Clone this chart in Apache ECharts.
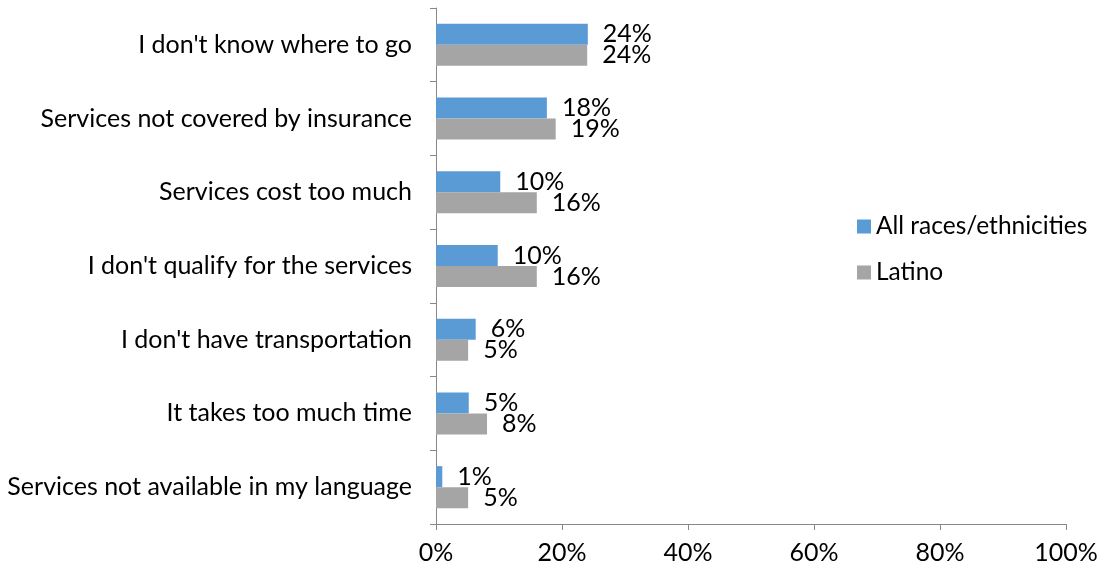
<!DOCTYPE html>
<html><head><meta charset="utf-8">
<script src="https://cdn.jsdelivr.net/npm/echarts@6/dist/echarts.min.js"></script>
<style>html,body{margin:0;padding:0;background:#fff}#c{width:1108px;height:573px}</style>
</head><body><div id="c"></div>
<script>
const categories = [
  "I don't know where to go",
  "Services not covered by insurance",
  "Services cost too much",
  "I don't qualify for the services",
  "I don't have transportation",
  "It takes too much time",
  "Services not available in my language"
];
const allRaces = [24.1, 17.6, 10.2, 9.8, 6.3, 5.2, 1.0];
const latino = [24.0, 19.0, 16.0, 16.0, 5.1, 8.1, 5.1];
const xTicks = [0, 20, 40, 60, 80, 100];
const seriesNames = ["All races/ethnicities", "Latino"];

const FONT = 'Lato';
const FS = 25;
const chart = echarts.init(document.getElementById('c'), null, {renderer: 'canvas'});
const lbl = {
  show: true, position: 'right', distance: 15,
  formatter: p => Math.round(p.value) + '%',
  fontFamily: FONT, fontSize: FS, color: '#000'
};
chart.setOption({
  animation: false,
  textStyle: {fontFamily: FONT},
  grid: {left: 436, right: 42, top: 8, bottom: 49, containLabel: false},
  legend: {
    orient: 'vertical', left: 852, top: 209, itemGap: 21,
    itemWidth: 14, itemHeight: 14, icon: 'rect',
    textStyle: {fontFamily: FONT, fontSize: 24.5, color: '#000'},
    data: seriesNames
  },
  xAxis: {
    type: 'value', min: xTicks[0], max: xTicks[xTicks.length - 1], interval: 20,
    splitLine: {show: false},
    axisLine: {show: true, lineStyle: {color: '#888', width: 1}},
    axisTick: {show: true, length: 6, lineStyle: {color: '#888'}},
    axisLabel: {formatter: v => v + '%', fontFamily: FONT, fontSize: FS, color: '#000', margin: 16}
  },
  yAxis: {
    type: 'category', data: categories, inverse: true,
    axisLine: {show: true, lineStyle: {color: '#888', width: 1}},
    axisTick: {show: true, length: 6, lineStyle: {color: '#888'}},
    axisLabel: {fontFamily: FONT, fontSize: FS, color: '#000', margin: 24}
  },
  series: [
    {name: seriesNames[0], type: 'bar', data: allRaces, barGap: '0%', barCategoryGap: '43%',
     itemStyle: {color: '#5B9BD5'}, label: lbl},
    {name: seriesNames[1], type: 'bar', data: latino, barGap: '0%', barCategoryGap: '43%',
     itemStyle: {color: '#A5A5A5'}, label: lbl}
  ]
});
</script></body></html>
